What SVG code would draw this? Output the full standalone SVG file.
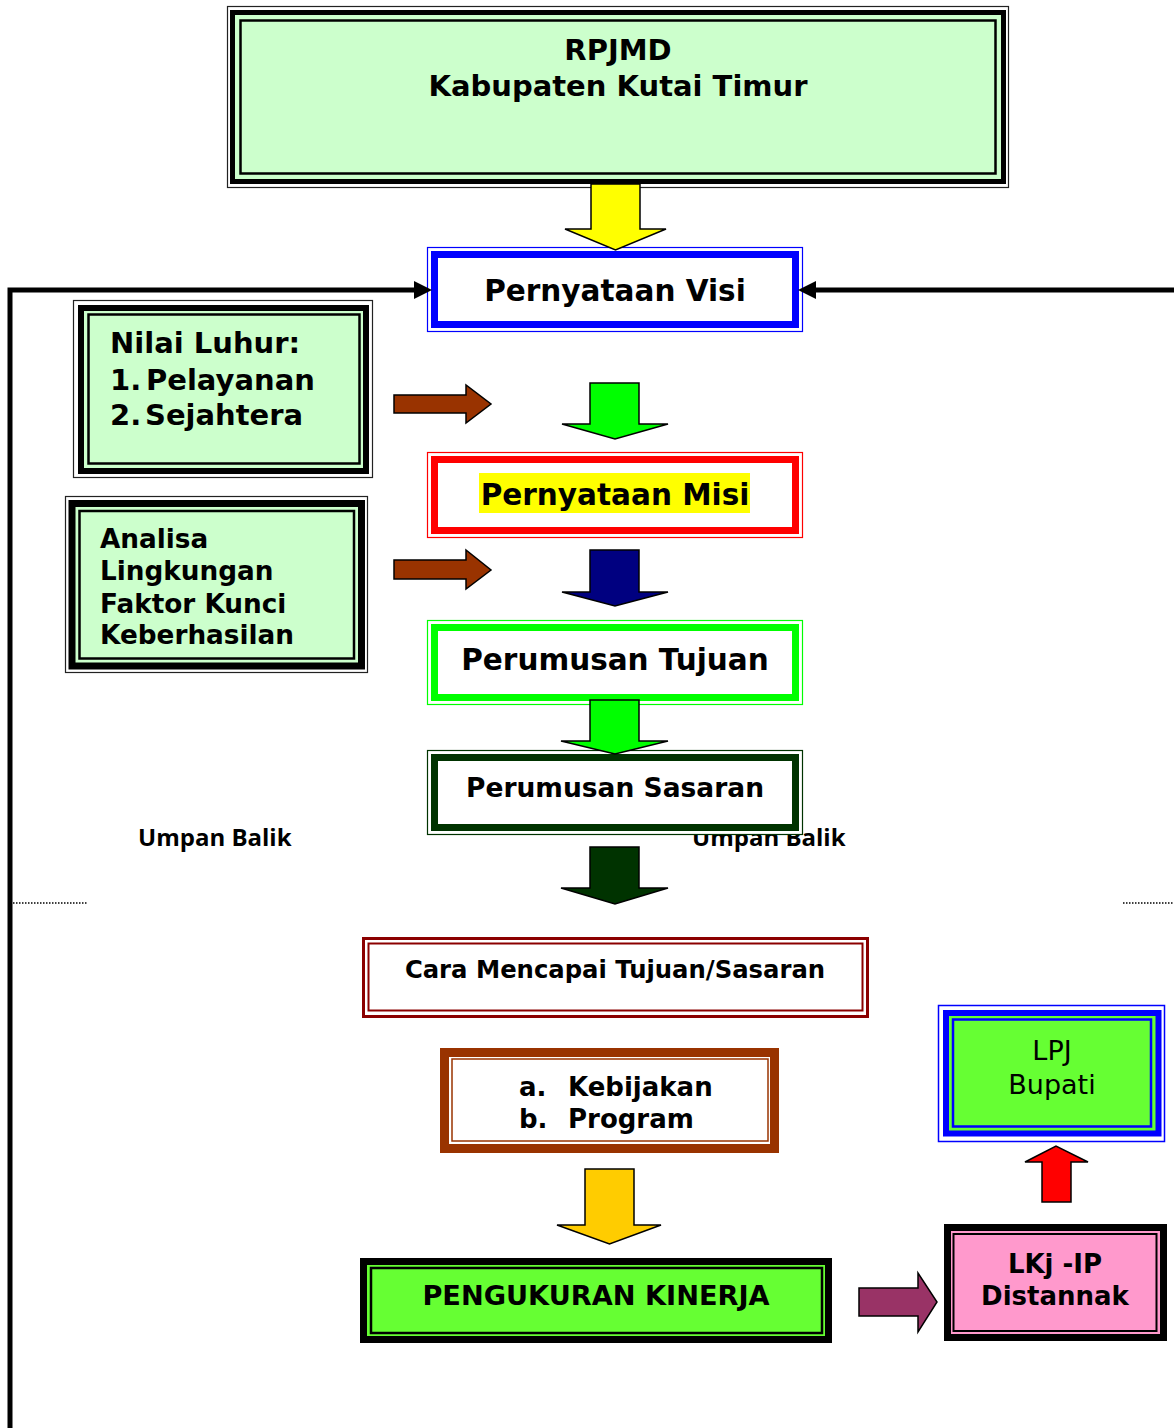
<svg xmlns="http://www.w3.org/2000/svg" width="1174" height="1428" viewBox="0 0 1174 1428">
<style>
.t{font-family:"DejaVu Sans",Verdana,sans-serif;font-weight:bold;fill:#000}
.r{font-family:"DejaVu Sans",Verdana,sans-serif;font-weight:normal;fill:#000}
.u{font-family:"Open Sans","Noto Sans",sans-serif;font-weight:bold;fill:#000;font-size:24px}
.blk{stroke:#000;stroke-width:1.5;stroke-linejoin:miter}
.fb{fill:none;stroke:#000;stroke-width:5}
.dot{stroke:#000;stroke-width:1.5;stroke-dasharray:1.5 1.5}
</style>
<rect width="1174" height="1428" fill="#fff"/>

<g id="labels">
<text class="u" x="138" y="846">Umpan Balik</text>
<text class="u" x="692" y="846">Umpan Balik</text>
</g>

<g id="node-rpjmd">
<rect x="227.5" y="6.5" width="781" height="181" fill="#fff" stroke="#222" stroke-width="1.2"/>
<rect x="232.5" y="12.5" width="771" height="169" fill="#CCFFCC" stroke="#000" stroke-width="5"/>
<rect x="240.5" y="20.5" width="755" height="153" fill="none" stroke="#000" stroke-width="2.5"/>
<text class="t" x="618" y="60" font-size="29" text-anchor="middle">RPJMD</text>
<text class="t" x="618" y="96" font-size="29" text-anchor="middle">Kabupaten Kutai Timur</text>
</g>

<g id="node-visi">
<rect x="427.5" y="247.5" width="375" height="84" fill="#fff" stroke="#0000FF" stroke-width="1.2"/>
<rect x="434.5" y="254.5" width="361" height="70" fill="#fff" stroke="#0000FF" stroke-width="7"/>
<text class="t" x="615" y="301" font-size="29.5" text-anchor="middle">Pernyataan Visi</text>
</g>

<g id="node-nilai">
<rect x="73.5" y="300.5" width="299" height="177" fill="#fff" stroke="#222" stroke-width="1.2"/>
<rect x="81" y="308" width="285" height="163" fill="#CCFFCC" stroke="#000" stroke-width="6"/>
<rect x="88.5" y="314.5" width="271" height="149" fill="none" stroke="#000" stroke-width="2.5"/>
<text class="t" x="110" y="353" font-size="29">Nilai Luhur:</text>
<text class="t" x="110" y="390" font-size="29">1.</text>
<text class="t" x="146" y="390" font-size="29">Pelayanan</text>
<text class="t" x="110" y="425" font-size="29">2.</text>
<text class="t" x="145" y="425" font-size="29">Sejahtera</text>
</g>

<g id="node-misi">
<rect x="427.5" y="452.5" width="375" height="85" fill="#fff" stroke="#FF0000" stroke-width="1.2"/>
<rect x="434.5" y="459.5" width="361" height="71" fill="#fff" stroke="#FF0000" stroke-width="7"/>
<rect x="479" y="473" width="271" height="40" fill="#FFFF00"/>
<text class="t" x="615" y="505" font-size="29.5" text-anchor="middle">Pernyataan Misi</text>
</g>

<g id="node-analisa">
<rect x="65.5" y="496.5" width="302" height="176" fill="#fff" stroke="#222" stroke-width="1.2"/>
<rect x="72" y="503.5" width="289.5" height="162.5" fill="#CCFFCC" stroke="#000" stroke-width="7"/>
<rect x="79.5" y="511" width="274.5" height="147.5" fill="none" stroke="#000" stroke-width="2.5"/>
<text class="t" x="100" y="548" font-size="26.3">Analisa</text>
<text class="t" x="100" y="580" font-size="26.3">Lingkungan</text>
<text class="t" x="100" y="613" font-size="26.3">Faktor Kunci</text>
<text class="t" x="100" y="644" font-size="26.3">Keberhasilan</text>
</g>

<g id="node-tujuan">
<rect x="427.5" y="620.5" width="375" height="84" fill="#fff" stroke="#00FF00" stroke-width="1.2"/>
<rect x="434.5" y="627.5" width="361" height="70" fill="#fff" stroke="#00FF00" stroke-width="7"/>
<text class="t" x="615" y="670" font-size="29.5" text-anchor="middle">Perumusan Tujuan</text>
</g>

<g id="node-sasaran">
<rect x="427.5" y="750.5" width="375" height="84" fill="#fff" stroke="#003300" stroke-width="1.2"/>
<rect x="434.5" y="757.5" width="361" height="70" fill="#fff" stroke="#003300" stroke-width="7"/>
<text class="t" x="615" y="797" font-size="26.5" text-anchor="middle">Perumusan Sasaran</text>
</g>

<g id="node-cara">
<rect x="363.5" y="938.5" width="504" height="78" fill="#fff" stroke="#8B0000" stroke-width="3"/>
<rect x="368.5" y="943.5" width="494" height="67" fill="none" stroke="#8B0000" stroke-width="2"/>
<text class="t" x="615" y="978" font-size="24.3" text-anchor="middle">Cara Mencapai Tujuan/Sasaran</text>
</g>

<g id="node-kebijakan">
<rect x="444.5" y="1052.5" width="330" height="96" fill="#fff" stroke="#993300" stroke-width="9"/>
<rect x="452" y="1059" width="316" height="82" fill="none" stroke="#993300" stroke-width="1.5"/>
<text class="t" x="519" y="1096" font-size="26">a.</text>
<text class="t" x="568" y="1096" font-size="26">Kebijakan</text>
<text class="t" x="519" y="1128" font-size="26">b.</text>
<text class="t" x="568" y="1128" font-size="26">Program</text>
</g>

<g id="node-lpj">
<rect x="938.5" y="1005.5" width="226" height="136" fill="#fff" stroke="#0000FF" stroke-width="1.5"/>
<rect x="946" y="1013" width="212.5" height="120.5" fill="#66FF33" stroke="#0000FF" stroke-width="6"/>
<rect x="953" y="1019.5" width="198" height="107" fill="none" stroke="#0000FF" stroke-width="2.5"/>
<text class="r" x="1052" y="1060" font-size="27" text-anchor="middle">LPJ</text>
<text class="r" x="1052" y="1094" font-size="27" text-anchor="middle">Bupati</text>
</g>

<g id="node-pengukuran">
<rect x="363.5" y="1261.5" width="465" height="78" fill="#66FF33" stroke="#000" stroke-width="7"/>
<rect x="371" y="1268" width="451" height="65" fill="none" stroke="#000" stroke-width="2.5"/>
<text class="t" x="596" y="1305" font-size="27.2" text-anchor="middle">PENGUKURAN KINERJA</text>
</g>

<g id="node-lkj">
<rect x="947.5" y="1227.5" width="216" height="110" fill="#FF99CC" stroke="#000" stroke-width="7"/>
<rect x="953.5" y="1234" width="203" height="97" fill="none" stroke="#000" stroke-width="2"/>
<text class="t" x="1055" y="1273" font-size="26" text-anchor="middle">LKj -IP</text>
<text class="t" x="1055" y="1305" font-size="26" text-anchor="middle">Distannak</text>
</g>

<g id="connectors">
<path class="fb" d="M10,1428 V290 H416"/>
<polygon points="414,281 432,290 414,299" fill="#000"/>
<path class="fb" d="M1174,290 H814"/>
<polygon points="816,281 798,290 816,299" fill="#000"/>
<line class="dot" x1="13" y1="903" x2="87" y2="903"/>
<line class="dot" x1="1123" y1="903" x2="1174" y2="903"/>

<polygon class="blk" fill="#FFFF00" points="591,184 640,184 640,229 666,229 615.5,250 565,229 591,229"/>
<polygon class="blk" fill="#00FF00" points="590,383 639,383 639,424 668,424 615,439 562,424 590,424"/>
<polygon class="blk" fill="#000080" points="590,550 639,550 639,592 668,592 615,606 562,592 590,592"/>
<polygon class="blk" fill="#00FF00" points="590,700 639,700 639,741 668,741 615,754 561,741 590,741"/>
<polygon class="blk" fill="#003300" points="590,847 639,847 639,888 668,888 615,904 561,888 590,888"/>
<polygon class="blk" fill="#FFCC00" points="585,1169 634,1169 634,1225 661,1225 609.5,1244 557,1225 585,1225"/>

<polygon class="blk" fill="#993300" points="394,395 466,395 466,385 491,404 466,423 466,413 394,413"/>
<polygon class="blk" fill="#993300" points="394,560 466,560 466,550 491,570 466,589 466,579 394,579"/>
<polygon class="blk" fill="#993366" points="859,1288 918,1288 918,1273 937,1302 918,1332 918,1316 859,1316"/>
<polygon class="blk" fill="#FF0000" points="1042,1202 1071,1202 1071,1162 1088,1162 1056,1146 1025,1162 1042,1162"/>
</g>
</svg>
